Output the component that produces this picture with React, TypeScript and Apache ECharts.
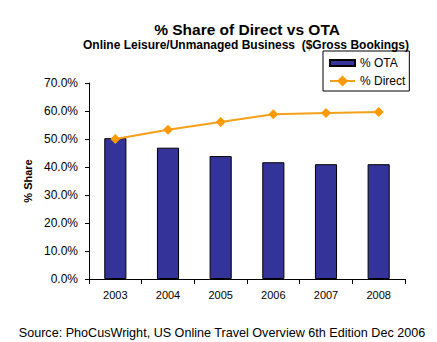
import React, { useEffect, useRef } from "react";
import * as echarts from "echarts";

const years = ["2003", "2004", "2005", "2006", "2007", "2008"];
const otaShare = [50.3, 46.9, 43.9, 41.7, 41.0, 41.0];
const directShare = [50.0, 53.3, 56.1, 58.8, 59.3, 59.6];
const yTicks = [0, 10, 20, 30, 40, 50, 60, 70];

const FONT = "Arial, 'Liberation Sans', sans-serif";

export default function App() {
  const ref = useRef<HTMLDivElement>(null);
  useEffect(() => {
    if (!ref.current) return;
    const chart = echarts.init(ref.current, undefined, { renderer: "svg" });
    chart.setOption({
      animation: false,
      backgroundColor: "#ffffff",
      textStyle: { fontFamily: FONT, color: "#000" },
      title: [
        {
          text: "% Share of Direct vs OTA",
          left: 242,
          textAlign: "center",
          top: 16,
          textStyle: { fontFamily: FONT, fontSize: 15.5, fontWeight: "bold", color: "#000" },
        },
        {
          text: "Online Leisure/Unmanaged Business  ($Gross Bookings)",
          left: 241,
          textAlign: "center",
          top: 34,
          textStyle: { fontFamily: FONT, fontSize: 12, fontWeight: "bold", color: "#000" },
        },
        {
          text: "Source: PhoCusWright, US Online Travel Overview 6th Edition Dec 2006",
          left: 217,
          textAlign: "center",
          top: 321,
          textStyle: { fontFamily: FONT, fontSize: 12.6, fontWeight: "normal", color: "#000" },
        },
      ],
      legend: {
        orient: "vertical",
        left: 323,
        top: 51,
        padding: [6, 4, 4, 6],
        itemGap: 6,
        itemWidth: 25,
        itemHeight: 14,
        borderColor: "#000",
        borderWidth: 1,
        textStyle: { fontFamily: FONT, fontSize: 12, color: "#000" },
        data: [
          { name: "% OTA", icon: "path://M0,0h25v6h-25z" },
          { name: "% Direct" },
        ],
      },
      grid: { left: 89, right: 32, top: 83, bottom: 63, containLabel: false },
      xAxis: {
        type: "category",
        data: years,
        axisLine: { lineStyle: { color: "#000", width: 1 } },
        axisTick: { show: true, length: 5, lineStyle: { color: "#000" } },
        axisLabel: { fontFamily: FONT, fontSize: 11, color: "#000", margin: 10 },
      },
      yAxis: {
        type: "value",
        min: yTicks[0],
        max: yTicks[yTicks.length - 1],
        interval: 10,
        name: "% Share",
        nameLocation: "middle",
        nameGap: 52,
        nameTextStyle: { fontFamily: FONT, fontSize: 11, fontWeight: "bold", color: "#000" },
        axisLine: { show: true, lineStyle: { color: "#000", width: 1 } },
        axisTick: { show: true, length: 4, lineStyle: { color: "#000" } },
        splitLine: { show: false },
        axisLabel: {
          fontFamily: FONT,
          fontSize: 12,
          color: "#000",
          margin: 11,
          formatter: (v: number) => v.toFixed(1) + "%",
        },
      },
      series: [
        {
          name: "% OTA",
          type: "bar",
          data: otaShare,
          barWidth: "42%",
          itemStyle: { color: "#333399", borderColor: "#000", borderWidth: 1 },
        },
        {
          name: "% Direct",
          type: "line",
          data: directShare,
          symbol: "diamond",
          symbolSize: 10,
          lineStyle: { color: "#F5A01A", width: 2 },
          itemStyle: { color: "#FF9900" },
        },
      ],
    });
    return () => chart.dispose();
  }, []);
  return <div ref={ref} style={{ width: 437, height: 342, position: "absolute", left: 0, top: 0 }} />;
}
